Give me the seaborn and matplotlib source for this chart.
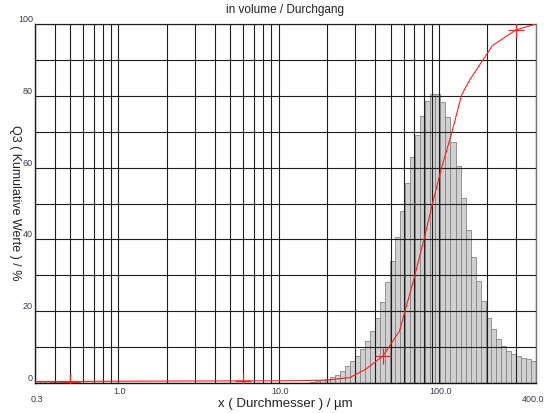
import numpy as np
import pandas as pd
import seaborn as sns
import matplotlib
matplotlib.use("Agg")
import matplotlib.pyplot as plt
from matplotlib.transforms import blended_transform_factory

sns.set_theme(style="white")
plt.rcParams['font.family'] = ['Liberation Sans', 'DejaVu Sans']

# ---------------- data ----------------
x_min, x_max = 0.3, 400.0
n_bins = 100

# bar heights (one per logarithmic class, 0.3 .. 400 um)
bar_low = [0.5, 0.5, 0.5, 0.4, 0.4, 0.4, 0.3, 0.3, 0.2]          # classes 0-8
bar_gap = [0.0] * 46                                              # classes 9-54
bar_main = [0.3, 0.5, 0.8, 1.0, 1.6, 2.2, 3.4, 4.7, 6.0, 7.5,
            9.4, 11.7, 14.5, 18.2, 22.6, 28.0, 33.9, 40.8, 48.0, 55.8,
            63.0, 69.2, 74.5, 78.5, 80.4, 80.4, 78.2, 74.0, 67.0, 60.5,
            51.4, 42.6, 35.0, 28.3, 22.9, 18.2, 15.0, 12.2, 10.3, 8.9,
            8.2, 7.5, 7.1, 6.6, 6.1]                                # classes 55-99
bar_heights = bar_low + bar_gap + bar_main

# cumulative curve Q3
q3_x = [0.3, 0.5, 1.0, 6.0, 10.0, 15.0, 20.0, 27.7, 35.0, 44.6, 56.6,
        70.0, 81.0, 90.9, 105.0, 117.0, 128.0, 138.0, 155.0, 215.0, 300.0, 400.0]
q3_y = [0.4, 0.4, 0.5, 0.6, 0.6, 0.7, 0.8, 1.5, 3.9, 7.5, 14.5,
        29.4, 40.6, 50.0, 61.0, 68.0, 74.6, 80.2, 84.4, 94.0, 98.3, 100.0]

# marked points
mark_x = [0.5, 6.0, 44.6, 300.0]
mark_y = [0.4, 0.6, 7.5, 98.3]

grid_x = [0.3, 0.4, 0.5, 0.6, 0.7, 0.8, 0.9,
          1, 2, 3, 4, 5, 6, 7, 8, 9,
          10, 20, 30, 40, 50, 60, 70, 80, 90,
          100, 200, 300, 400]
grid_y = [0, 10, 20, 30, 40, 50, 60, 70, 80, 90, 100]
y_labels = ["0", "20", "40", "60", "80", "100"]
y_label_pos = [0, 20, 40, 60, 80, 100]
x_labels_hi = ["1.0", "10.0", "100.0"]
x_labels_hi_pos = [1.0, 10.0, 100.0]

# ---------------- figure ----------------
W, H = 546, 413
fig = plt.figure(figsize=(W / 100, H / 100), dpi=100)
left, right, top, bottom = 34.5, 535.7, 24.0, 383.0
ax = fig.add_axes([left / W, 1 - bottom / H, (right - left) / W, (bottom - top) / H])

edges = np.logspace(np.log10(x_min), np.log10(x_max), n_bins + 1)
centers = np.sqrt(edges[:-1] * edges[1:])
df = pd.DataFrame({"x": centers, "h": bar_heights})

sns.histplot(data=df, x="x", weights="h", bins=list(np.log10(edges)), log_scale=True,
             stat="count", color="#d0d0d0", edgecolor="#858585", linewidth=0.6,
             alpha=1.0, ax=ax, zorder=1)

ax.set_xlim(x_min, x_max)
ax.set_ylim(0, 100)

# grid above bars
ax.set_xticks(grid_x)
ax.set_xticks([], minor=True)
ax.set_yticks(grid_y)
ax.set_axisbelow(False)
ax.grid(True, which="major", color="#1e1e1e", linewidth=0.8)
ax.tick_params(labelbottom=False, labelleft=False, length=0)
ax.set_xlabel("")
ax.set_ylabel("")

curve = pd.DataFrame({"x": q3_x, "y": q3_y})
sns.lineplot(data=curve, x="x", y="y", color="#ff2020", linewidth=0.8, ax=ax, zorder=5)
sns.scatterplot(x=mark_x, y=mark_y, marker="+", s=140, color="#ff2020",
                linewidth=0.9, ax=ax, zorder=6)
ax.set_xlabel("")
ax.set_ylabel("")

for side in ["left", "bottom"]:
    ax.spines[side].set_color("#111111")
    ax.spines[side].set_linewidth(1.0)
for side in ["top", "right"]:
    ax.spines[side].set_color("#777777")
    ax.spines[side].set_linewidth(1.0)

# tick labels as text
tcol = "#3a3a4a"
ytr = blended_transform_factory(ax.transAxes, ax.transData)
for lab, v in zip(y_labels, y_label_pos):
    ax.text(-0.003, v, lab, transform=ytr, ha="right", va="bottom", fontsize=6.5, color=tcol)
xtr = blended_transform_factory(ax.transData, ax.transAxes)
for lab, v in zip(x_labels_hi, x_labels_hi_pos):
    ax.text(v * 1.02, -0.01, lab, transform=xtr, ha="center", va="top", fontsize=6.5, color=tcol)
# outer range labels sit one row lower
ax.text(0.3 * 1.03, -0.033, "0.3", transform=xtr, ha="center", va="top", fontsize=6.5, color=tcol)
fig.text(544.5 / W, 1 - 394.5 / H, "400.0", ha="right", va="top", fontsize=6.5, color=tcol)

fig.text(285 / W, 1 - 10 / H, "in volume / Durchgang", ha="center", va="center",
         fontsize=8.5, color="#222222")
fig.text(285 / W, 1 - 404 / H, "x ( Durchmesser ) / µm", ha="center", va="center",
         fontsize=9.5, color="#222222")
fig.text(15 / W, 1 - 203 / H, "Q3 ( Kumulative Werte ) / %", ha="center", va="center",
         rotation=-90, fontsize=9, color="#222222")

fig.savefig("out.png", dpi=100)
